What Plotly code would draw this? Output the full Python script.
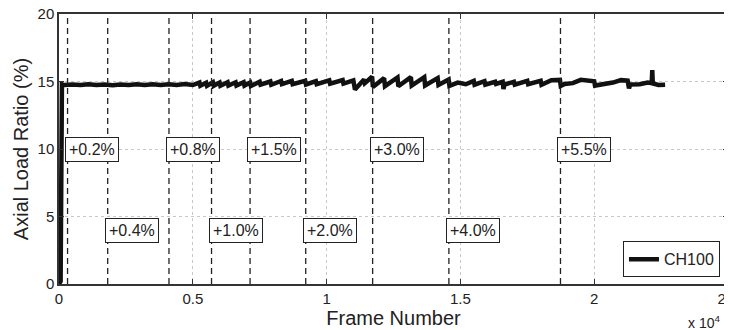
import plotly.graph_objects as go

# ---- data ----
frames = [0, 60, 110, 200, 500, 800, 1100, 1400, 1700, 2000, 2300, 2600, 2900, 3200, 3500, 3800, 4100, 4400, 4700, 5000,
          5250, 5280, 5500, 5530, 5750, 5780, 6000, 6030, 6300, 6330, 6600, 6630, 6900, 6930, 7140,
          7170, 7500, 7530, 7900, 7930, 8300, 8330, 8700, 8730, 9200, 9230,
          9600, 9630, 10100, 10130, 10600, 10630, 11000, 11060, 11400, 11430, 11700, 11730,
          12150, 12180, 12650, 12680, 13150, 13180, 13650, 13680, 14150, 14180, 14560, 14590,
          14900, 15200, 15500, 15530, 15900, 15930, 16300, 16330, 16580, 16610, 16650, 17000, 17030,
          17500, 17530, 18000, 18030, 18400, 18720, 18750,
          18900, 19200, 19500, 19700, 20000, 20030, 20400, 20700, 21000, 21250, 21300, 21350,
          21700, 22000, 22150, 22170, 22190, 22400, 22650]
ratio = [0, 0.2, 14.8, 14.74, 14.78, 14.74, 14.8, 14.74, 14.78, 14.73, 14.78, 14.74, 14.8, 14.75, 14.8, 14.75, 14.8, 14.75, 14.82, 14.74,
         14.92, 14.68, 14.9, 14.68, 14.94, 14.68, 14.92, 14.68, 14.94, 14.7, 14.94, 14.7, 14.95, 14.7, 14.92,
         14.66, 14.98, 14.76, 15.0, 14.76, 15.04, 14.8, 15.04, 14.8, 15.05, 14.78,
         15.02, 14.8, 15.08, 14.84, 15.1, 14.84, 15.08, 14.4, 15.15, 14.88, 15.35, 14.6,
         15.25, 14.65, 15.3, 14.65, 15.32, 14.7, 15.32, 14.7, 15.25, 14.75, 15.15, 14.68,
         14.92, 14.8, 15.05, 14.76, 15.02, 14.76, 14.98, 14.82, 14.98, 14.45, 14.78, 14.98, 14.76,
         15.05, 14.8, 15.05, 14.76, 15.1, 15.12, 14.68,
         14.82, 14.88, 15.12, 15.05, 15.02, 14.7, 14.82, 14.92, 15.1, 15.06, 14.5, 14.78,
         14.8, 14.92, 14.88, 15.85, 14.85, 14.74, 14.76]

drift_frames = [320, 1820, 4110, 5700, 7140, 9220, 11720, 14570, 18740]
drift_labels = ["+0.2%", "+0.4%", "+0.8%", "+1.0%", "+1.5%", "+2.0%", "+3.0%", "+4.0%", "+5.5%"]
label_y = [10, 4, 10, 4, 10, 4, 10, 4, 10]

x_tickvals = [0, 5000, 10000, 15000, 20000, 25000]
x_ticktext = ["0", "0.5", "1", "1.5", "2", "2.5"]
y_tickvals = [0, 5, 10, 15, 20]

FONT = "Liberation Sans, Arial, sans-serif"
TXT = "#222222"

fig = go.Figure()
fig.add_trace(go.Scatter(x=frames, y=ratio, mode="lines", name="CH100",
                         line=dict(color="#111111", width=4.5)))

for fx in drift_frames:
    fig.add_shape(type="line", xref="x", yref="y", x0=fx, x1=fx, y0=0, y1=20,
                  line=dict(color="#222222", width=1.3, dash="6px,4px"), layer="above")

for fx, txt, ly in zip(drift_frames, drift_labels, label_y):
    fig.add_annotation(x=fx, y=ly, xref="x", yref="y", text=txt, showarrow=False,
                       xanchor="left", yanchor="middle", xshift=-3,
                       font=dict(family=FONT, size=16, color=TXT),
                       bgcolor="white", bordercolor="#222222", borderwidth=1, borderpad=3)

fig.add_annotation(x=1, y=0, xref="paper", yref="paper", text="x 10<sup>4</sup>",
                   showarrow=False, xanchor="right", yanchor="top", yshift=-27, xshift=-6,
                   font=dict(family=FONT, size=14, color=TXT))

axis_common = dict(showline=True, linecolor="#333333", linewidth=1.5, mirror="ticks",
                   ticks="inside", ticklen=5, tickcolor="#333333",
                   showgrid=True, gridcolor="#c8c8c8", griddash="dot", gridwidth=1,
                   zeroline=False, automargin=False, ticklabeloverflow="allow",
                   tickfont=dict(family=FONT, size=15, color=TXT))

fig.update_xaxes(range=[0, 25000], tickvals=x_tickvals, ticktext=x_ticktext,
                 title=dict(text="Frame Number", font=dict(family=FONT, size=20, color=TXT), standoff=2),
                 **axis_common)
fig.update_yaxes(range=[0, 20], tickvals=y_tickvals,
                 title=dict(text="Axial Load Ratio (%)", font=dict(family=FONT, size=20, color=TXT), standoff=4),
                 **axis_common)

# page body has an 8px margin, so the figure is 8px smaller and offsets compensate
fig.update_layout(width=724, height=322, margin=dict(l=51, r=4, t=6, b=46),
                  plot_bgcolor="white", paper_bgcolor="white",
                  showlegend=True,
                  legend=dict(x=0.988, y=0.025, xanchor="right", yanchor="bottom",
                              bordercolor="#222222", borderwidth=1, bgcolor="white",
                              itemwidth=30, font=dict(family=FONT, size=16, color=TXT),
                              tracegroupgap=0))

fig.write_html("out.html")
